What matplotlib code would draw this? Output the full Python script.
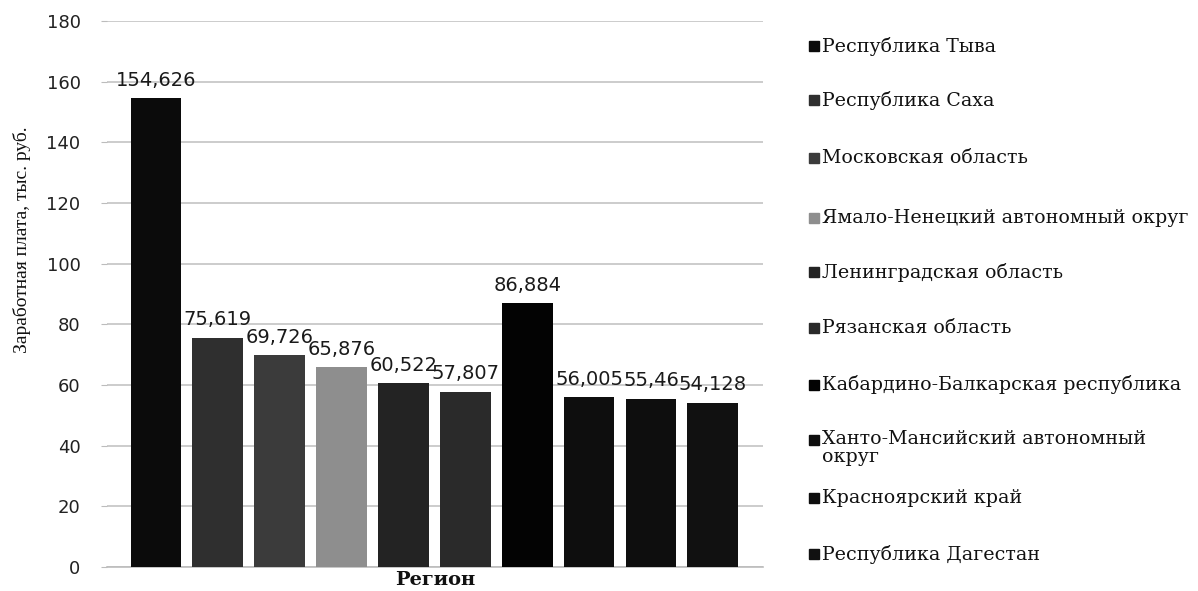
import matplotlib
matplotlib.use("Agg")
import matplotlib.pyplot as plt
from matplotlib.lines import Line2D

regions = [
    "Республика Тыва",
    "Республика Саха",
    "Московская область",
    "Ямало-Ненецкий автономный округ",
    "Ленинградская область",
    "Рязанская область",
    "Кабардино-Балкарская республика",
    "Ханто-Мансийский автономный\nокруг",
    "Красноярский край",
    "Республика Дагестан",
]
values = [154.626, 75.619, 69.726, 65.876, 60.522, 57.807, 86.884, 56.005, 55.46, 54.128]
value_labels = ["154,626", "75,619", "69,726", "65,876", "60,522", "57,807",
                "86,884", "56,005", "55,46", "54,128"]
colors = ["#0b0b0b", "#2f2f2f", "#3b3b3b", "#8e8e8e", "#232323", "#2a2a2a",
          "#030303", "#0e0e0e", "#0e0e0e", "#111111"]
yticks = [0, 20, 40, 60, 80, 100, 120, 140, 160, 180]

W, H = 1198, 591
fig = plt.figure(figsize=(W / 100, H / 100), dpi=100)
ax = fig.add_axes([107 / W, (H - 567) / H, (763 - 107) / W, (567 - 21) / H])

x = list(range(len(values)))
bars = ax.bar(x, values, width=0.82, color=colors, zorder=3)
ax.bar_label(bars, labels=value_labels, padding=6, fontsize=14,
             color="#1a1a1a", family="DejaVu Sans", zorder=4)

ax.set_ylim(0, 180)
ax.set_xlim(-0.79, 9.81)
ax.set_yticks(yticks)
ax.set_xticks([])
ax.yaxis.grid(True, color="#c4c4c4", linewidth=1.2, zorder=0)
for s in ["top", "right", "left"]:
    ax.spines[s].set_visible(False)
ax.spines["bottom"].set_color("#bcbcbc")
ax.spines["bottom"].set_linewidth(1.2)
ax.tick_params(axis="y", length=4, color="#bcbcbc", labelsize=13,
               labelcolor="#222222", pad=15)

ax.set_ylabel("Заработная плата, тыс. руб.", family="Liberation Serif",
              fontsize=14, color="#111111")
ax.yaxis.set_label_coords(-0.116, 0.60)
ax.set_xlabel("Регион", family="DejaVu Serif", fontsize=14,
              fontweight="bold", color="#111111", labelpad=3)

# legend drawn manually to follow the reference's uneven spacing
legend_y = [46, 100, 158, 218, 272, 328, 385, 440, 498, 554]
for lbl, col, yp in zip(regions, colors, legend_y):
    fy = (H - yp) / H
    fig.add_artist(Line2D([814 / W], [fy], marker="s", markersize=6.5,
                          color=col, linestyle="none", transform=fig.transFigure))
    if "\n" in lbl:
        fig.text(822 / W, fy + 10 / H, lbl, family="DejaVu Serif", fontsize=13.7,
                 color="#111111", va="top", linespacing=1.0)
    else:
        fig.text(822 / W, fy, lbl, family="DejaVu Serif", fontsize=13.7,
                 color="#111111", va="center")

fig.savefig("out.png", dpi=100, facecolor="white")
